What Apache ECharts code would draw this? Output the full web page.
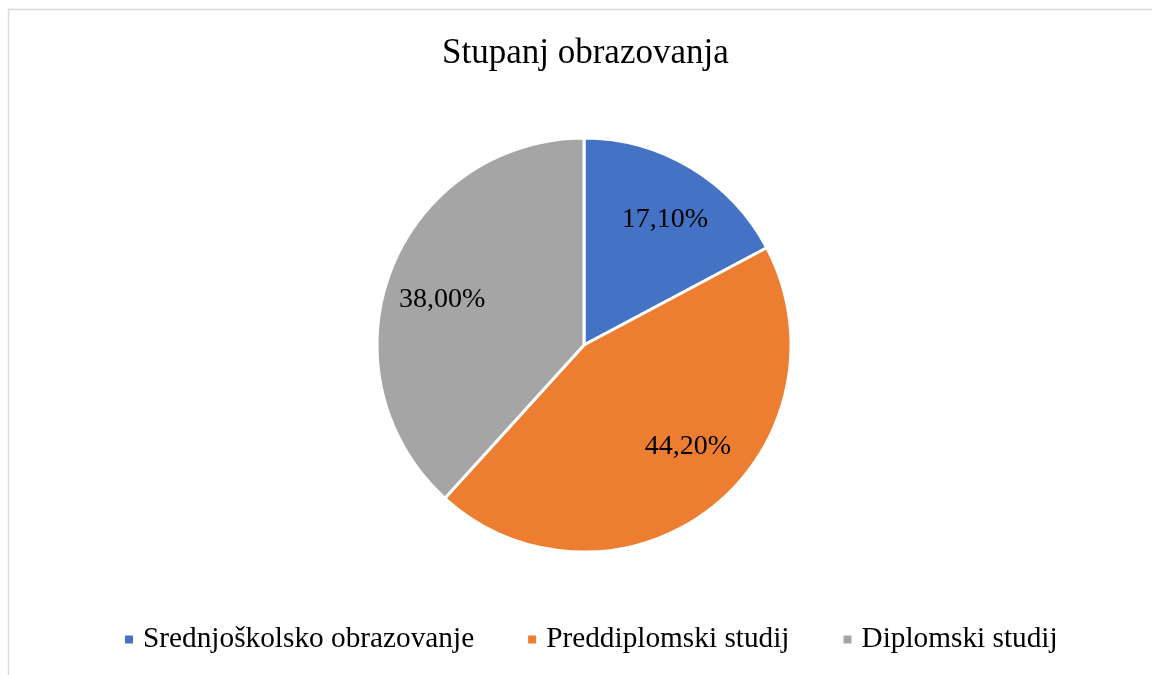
<!DOCTYPE html>
<html>
<head>
<meta charset="utf-8">
<script src="https://cdn.jsdelivr.net/npm/echarts@6/dist/echarts.min.js"></script>
<style>html,body{margin:0;padding:0;background:#fff}#c{width:1152px;height:675px}</style>
</head>
<body>
<div id="c"></div>
<script>
const titleText = 'Stupanj obrazovanja';
const categories = ['Srednjoškolsko obrazovanje', 'Preddiplomski studij', 'Diplomski studij'];
const values = [17.1, 44.2, 38.0];
const colors = ['#4472C4', '#ED7D31', '#A5A5A5'];
const labelOffsets = [[2, 6], [10, -19], [1, 10]];

const font = '"Liberation Serif", "Times New Roman", serif';
const chart = echarts.init(document.getElementById('c'));
const fmt = v => v.toFixed(2).replace('.', ',') + '%';

chart.setOption({
  animation: false,
  backgroundColor: '#fff',
  graphic: [{
    type: 'rect', silent: true,
    shape: { x: 8.5, y: 9.5, width: 1200, height: 700 },
    style: { fill: 'none', stroke: '#d9d9d9', lineWidth: 1.5 }
  }],
  title: {
    text: titleText, left: 437, top: 31,
    textStyle: { fontFamily: font, fontSize: 35, fontWeight: 'normal', color: '#000' }
  },
  legend: {
    bottom: 16, left: 118,
    icon: 'rect', itemWidth: 10, itemHeight: 10, itemGap: 52,
    textStyle: { fontFamily: font, fontSize: 29.3, color: '#000', padding: [0, 0, 0, 4] },
    data: categories
  },
  series: [{
    type: 'pie', center: [584, 345], radius: 207,
    startAngle: 90, clockwise: true,
    label: { show: false }, labelLine: { show: false },
    itemStyle: { borderColor: '#fff', borderWidth: 3 },
    emphasis: { disabled: true },
    data: categories.map((n, i) => ({ name: n, value: values[i], itemStyle: { color: colors[i] } }))
  }, {
    type: 'pie', center: [584, 345], radius: [93, 207],
    startAngle: 90, clockwise: true, silent: true,
    itemStyle: { color: 'rgba(0,0,0,0)', borderWidth: 0 },
    labelLine: { show: false },
    emphasis: { disabled: true },
    label: {
      show: true, position: 'inside',
      fontFamily: font, fontSize: 28, color: '#000',
      formatter: p => fmt(p.value)
    },
    data: categories.map((n, i) => ({ name: n, value: values[i], label: { offset: labelOffsets[i] } }))
  }]
});
</script>
</body>
</html>
